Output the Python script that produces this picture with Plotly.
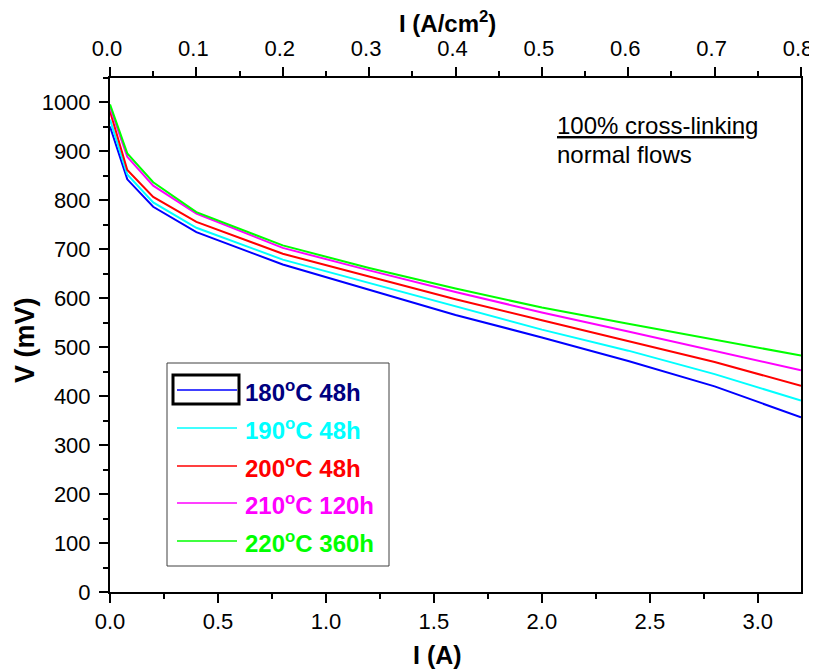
import plotly.graph_objects as go

# ---------------- data ----------------
current_A = [0.0, 0.08, 0.2, 0.4, 0.8, 1.2, 1.6, 2.0, 2.4, 2.8, 3.2]
v_180_48 = [951, 843, 787, 735, 669, 618, 566, 520, 472, 420, 357]
v_190_48 = [965, 853, 796, 744, 679, 631, 584, 536, 493, 445, 391]
v_200_48 = [982, 862, 807, 756, 691, 645, 598, 555, 513, 470, 421]
v_210_120 = [990, 889, 830, 773, 703, 657, 613, 571, 532, 493, 453]
v_220_360 = [996, 896, 837, 776, 708, 662, 620, 581, 548, 515, 483]

series_names = ["180°C 48h", "190°C 48h", "200°C 48h", "210°C 120h", "220°C 360h"]
legend_labels = ["180<sup>o</sup>C 48h", "190<sup>o</sup>C 48h", "200<sup>o</sup>C 48h",
                 "210<sup>o</sup>C 120h", "220<sup>o</sup>C 360h"]
series_values = [v_180_48, v_190_48, v_200_48, v_210_120, v_220_360]
line_colors = ["#0000FF", "#00FFFF", "#FF0000", "#FF00FF", "#00FF00"]
text_colors = ["#000080", "#00FFFF", "#FF0000", "#FF00FF", "#00FF00"]

bottom_ticks = [0.0, 0.5, 1.0, 1.5, 2.0, 2.5, 3.0]
top_ticks = [0.0, 0.1, 0.2, 0.3, 0.4, 0.5, 0.6, 0.7, 0.8]
y_ticks = [0, 100, 200, 300, 400, 500, 600, 700, 800, 900, 1000]

# ---------------- layout geometry ----------------
OFF = 8  # page body margin in the browser
W, H = 817 - OFF, 670 - OFF
# plot area in screen pixels (reference picture)
SL, SR, ST, SB = 110, 801, 78, 592
L, R, T, B = SL - OFF, SR - OFF, ST - OFF, SB - OFF


def px(x):
    return (x - SL) / (SR - SL)


def py(y):
    return (SB - y) / (SB - ST)


FONT = "Liberation Sans, Arial, sans-serif"

fig = go.Figure()
for name, vals, col in zip(series_names, series_values, line_colors):
    fig.add_trace(go.Scatter(x=current_A, y=vals, mode="lines", name=name,
                             line=dict(color=col, width=2), showlegend=False))

# dummy trace to activate top axis
fig.add_trace(go.Scatter(x=[0, 0.8], y=[None, None], xaxis="x2", yaxis="y",
                         mode="lines", showlegend=False, hoverinfo="skip"))

axis_common = dict(showline=True, linecolor="black", linewidth=2, ticks="outside",
                   tickcolor="black", tickwidth=1.5, ticklen=9, showgrid=False,
                   zeroline=False, automargin=False, ticklabeloverflow="allow",
                   tickfont=dict(family=FONT, size=22, color="black"))

fig.update_layout(
    width=W, height=H,
    margin=dict(l=L, r=W - R, t=T, b=H - B, pad=0),
    plot_bgcolor="white", paper_bgcolor="white",
    showlegend=False,
    xaxis=dict(range=[0, 3.2], tickvals=bottom_ticks,
               ticktext=[f"{v:.1f}" for v in bottom_ticks],
               minor=dict(dtick=0.25, tick0=0, ticks="outside", ticklen=5,
                          tickcolor="black", tickwidth=1.5),
               **axis_common),
    xaxis2=dict(range=[0, 0.8], overlaying="x", side="top", tickvals=top_ticks,
                ticktext=[f"{v:.1f}" for v in top_ticks],
                minor=dict(dtick=0.05, tick0=0, ticks="outside", ticklen=5,
                           tickcolor="black", tickwidth=1.5),
                ticklabelstandoff=2, ticklabelshift=-3,
                **axis_common),
    yaxis=dict(range=[0, 1050], tickvals=y_ticks, mirror=True,
               minor=dict(dtick=50, tick0=0, ticks="outside", ticklen=5,
                          tickcolor="black", tickwidth=1.5),
               ticklabelstandoff=4,
               **axis_common),
)

shapes = []
annotations = []

# axis titles
TFONT = dict(family=FONT, size=25, color="black")
annotations.append(dict(xref="paper", yref="paper", x=px(437), y=py(655),
                        xanchor="center", yanchor="middle", showarrow=False,
                        text="<b>I (A)</b>", font=TFONT))
annotations.append(dict(xref="paper", yref="paper", x=px(447), y=py(22),
                        xanchor="center", yanchor="middle", showarrow=False,
                        text="<b>I (A/cm<sup>2</sup>)</b>",
                        font=dict(family=FONT, size=24, color="black")))
annotations.append(dict(xref="paper", yref="paper", x=px(25), y=py(340),
                        xanchor="center", yanchor="middle", showarrow=False,
                        textangle=-90, text="<b>V (mV)</b>",
                        font=dict(family=FONT, size=27, color="black")))

# ---------------- legend box (drawn manually) ----------------
shapes.append(dict(type="rect", xref="paper", yref="paper",
                   x0=px(167), x1=px(389), y0=py(566), y1=py(363),
                   line=dict(color="#404040", width=1), fillcolor="white", layer="above"))
row_y = [390, 428, 466, 503, 541]
for i, (lab, lc, tc) in enumerate(zip(legend_labels, line_colors, text_colors)):
    yy = row_y[i]
    shapes.append(dict(type="line", xref="paper", yref="paper",
                       x0=px(177), x1=px(237), y0=py(yy), y1=py(yy),
                       line=dict(color=lc, width=1.5), layer="above"))
    annotations.append(dict(xref="paper", yref="paper", x=px(243), y=py(yy + 1),
                            xanchor="left", yanchor="middle", showarrow=False,
                            text=f"<b>{lab}</b>",
                            font=dict(family=FONT, size=24, color=tc)))
# selection rectangle around first legend sample
shapes.append(dict(type="rect", xref="paper", yref="paper",
                   x0=px(173), x1=px(239), y0=py(404), y1=py(375),
                   line=dict(color="black", width=3), layer="above"))

# text annotation
annotations.append(dict(xref="paper", yref="paper", x=px(555), y=py(125),
                        xanchor="left", yanchor="middle", showarrow=False,
                        text="<u>100% cross-linking</u>",
                        font=dict(family=FONT, size=24, color="black")))
annotations.append(dict(xref="paper", yref="paper", x=px(555), y=py(154),
                        xanchor="left", yanchor="middle", showarrow=False,
                        text="normal flows",
                        font=dict(family=FONT, size=24, color="black")))

fig.update_layout(shapes=shapes, annotations=annotations)
fig.write_html("out.html")
